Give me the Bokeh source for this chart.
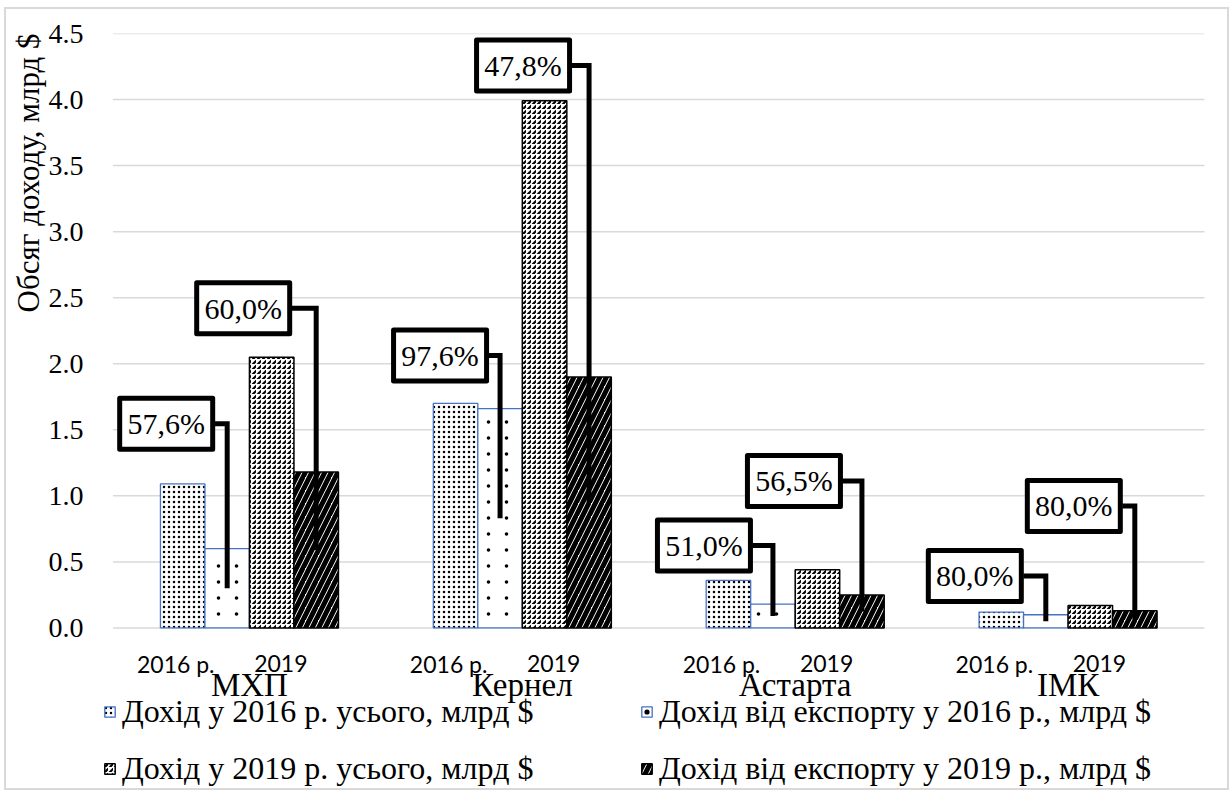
from bokeh.plotting import figure
from bokeh.models import (Range1d, FixedTicker, PrintfTickFormatter, Legend,
                          LegendItem, ColumnDataSource, Title)
from bokeh.embed import file_html
from bokeh.resources import INLINE
from bokeh.core.properties import value

# ---------------- data ----------------
categories = ["МХП", "Кернел", "Астарта", "ІМК"]
sub_labels = ["2016 р.", "2019"]
rev2016_total = [1.09, 1.70, 0.36, 0.12]
rev2016_export = [0.60, 1.66, 0.18, 0.10]
rev2019_total = [2.05, 3.99, 0.44, 0.17]
rev2019_export = [1.18, 1.90, 0.25, 0.13]
share_2016 = ["57,6%", "97,6%", "51,0%", "80,0%"]
share_2019 = ["60,0%", "47,8%", "56,5%", "80,0%"]
series_names = ["Дохід у 2016 р. усього, млрд $",
                "Дохід від експорту у 2016 р., млрд $",
                "Дохід у 2019 р. усього, млрд $",
                "Дохід від експорту у 2019 р., млрд $"]
y_ticks = [0.0, 0.5, 1.0, 1.5, 2.0, 2.5, 3.0, 3.5, 4.0, 4.5]
y_title = "Обсяг доходу, млрд $"

# ---------------- layout (positions, not data) ----------------
W, H = 1225, 783
ORIGIN_X, ORIGIN_Y = 6, 9            # page position of canvas (margin + border)
FRAME_L, FRAME_R, FRAME_T = 100, 1206, 33   # page px
GRID_L, GRID_R = 112.5, 1204.0             # page px of x = -0.5 .. 3.5
PX_Y = 132.1                               # px per 1 bln $
ML = FRAME_L - ORIGIN_X
MT = FRAME_T - ORIGIN_Y
MR = (ORIGIN_X + W) - FRAME_R
MB = 0
px_x = (GRID_R - GRID_L) / len(categories)
XMIN = -0.5 - (GRID_L - FRAME_L) / px_x
XMAX = len(categories) - 0.5 + (FRAME_R - GRID_R) / px_x
frame_h = (ORIGIN_Y + H - MB) - FRAME_T
YMAX = 4.5
YMIN = YMAX - frame_h / PX_Y
bar_w = 44.5 / px_x
# callout boxes: (px offset of box centre from bar centre, y of box centre in axis units)
callout_2016 = [(-61, 1.545), (-60, 2.063), (-69, 0.625), (-71, 0.394)]
callout_2019 = [(-73, 2.42), (-66, 4.258), (-68, 1.113), (-61, 0.924)]
BOX_W, BOX_H = 93, 51
# sparse-dot fill pattern of the export-2016 bars (page-aligned grid, px)
DOT_X0, DOT_DX, DOT_Y0, DOT_DY = 218.0, 18.0, 14.0, 16.0

SERIF = "Liberation Serif"
SANS = "Lato"

p = figure(width=W, height=H, x_range=Range1d(XMIN, XMAX), y_range=Range1d(YMIN, YMAX),
           output_backend="svg", toolbar_location=None, x_axis_location=None,
           min_border_left=ML, min_border_right=MR, min_border_top=MT, min_border_bottom=MB)
p.outline_line_color = None
p.background_fill_color = "white"
p.border_fill_color = "white"
p.styles = {"border": "2px solid #d9d9d9", "box-sizing": "border-box",
            "margin-left": "4px", "margin-top": "7px"}

p.xgrid.visible = False
p.ygrid.visible = False
# horizontal gridlines over the plot area only
p.segment(x0=[-0.5] * len(y_ticks), x1=[len(categories) - 0.5] * len(y_ticks),
          y0=y_ticks, y1=y_ticks, line_color="#d9d9d9", line_width=1.5)

yax = p.yaxis[0]
yax.ticker = FixedTicker(ticks=y_ticks)
yax.formatter = PrintfTickFormatter(format="%.1f")
yax.axis_line_color = None
yax.major_tick_line_color = None
yax.minor_tick_line_color = None
yax.major_tick_out = 0
yax.major_tick_in = 0
yax.major_label_standoff = 17
yax.major_label_text_font = SERIF
yax.major_label_text_font_size = "28px"
yax.major_label_text_color = "black"

p.add_layout(Title(text=y_title, align="right", text_font=SERIF, text_font_size="31px",
                   text_font_style="normal", text_color="black", standoff=0), "left")

idx = list(range(len(categories)))
series_vals = [rev2016_total, rev2016_export, rev2019_total, rev2019_export]
styles = [
    dict(line_color="#4472C4", line_width=1.3, fill_color="white",
         hatch_pattern="dot", hatch_color="black", hatch_scale=5, hatch_weight=3.0),
    dict(line_color="#4472C4", line_width=1.3, fill_color="white"),
    dict(line_color="black", line_width=1.5, fill_color="white",
         hatch_pattern="right_diagonal_dash", hatch_color="black", hatch_scale=5, hatch_weight=2.2),
    dict(line_color="black", line_width=1.5, fill_color="white",
         hatch_pattern="right_diagonal_line", hatch_color="black", hatch_scale=13, hatch_weight=5),
]
bar_x = []
renderers = []
for k, (vals, st) in enumerate(zip(series_vals, styles)):
    xs_k = [i + (k - 1.5) * bar_w for i in idx]
    bar_x.append(xs_k)
    src = ColumnDataSource(dict(x=xs_k, top=vals))
    r = p.vbar(x="x", top="top", bottom=0, width=bar_w, source=src, **st)
    renderers.append([r])

# sparse dots inside the export-2016 bars
dx_data = DOT_DX / px_x
x_anchor = -0.5 + (DOT_X0 - GRID_L) / px_x
dots_x, dots_y = [], []
for bx, v in zip(bar_x[1], rev2016_export):
    left, right = bx - bar_w / 2 + 3 / px_x, bx + bar_w / 2 - 1 / px_x
    n0 = int((left - x_anchor) // dx_data) + 1
    xg = [x_anchor + n * dx_data for n in range(n0, n0 + 4) if x_anchor + n * dx_data <= right]
    j = 0
    while (DOT_Y0 + j * DOT_DY) / PX_Y < v - 4 / PX_Y:
        for xx in xg:
            dots_x.append(xx)
            dots_y.append((DOT_Y0 + j * DOT_DY) / PX_Y)
        j += 1
dots = p.scatter(x=dots_x, y=dots_y, size=3.6, marker="circle", fill_color="black", line_color=None)
renderers[1].append(dots)

# category sub-labels and names
sub_x = [i - 0.27 for i in idx] + [i + 0.115 for i in idx]
sub_t = [sub_labels[0]] * len(idx) + [sub_labels[1]] * len(idx)
p.text(x=sub_x, y=[-0.27] * len(sub_x), text=sub_t, text_font=value(SANS),
       text_font_size="23px", text_align="center", text_baseline="middle", text_color="black")
p.text(x=idx, y=[-0.43] * len(idx), text=categories, text_font=value(SERIF),
       text_font_size="33px", text_align="center", text_baseline="middle", text_color="black")

# callouts with leader lines
def add_callouts(k, vals, shares, pos):
    bx = bar_x[k]
    cx = [b + dx / px_x for b, (dx, _) in zip(bx, pos)]
    cy = [yy for (_, yy) in pos]
    right = [c + (BOX_W / 2 + 2) / px_x for c in cx]
    xs = [[b, b, r] for b, r in zip(bx, right)]
    ys = [[v / 2, y, y] for v, y in zip(vals, cy)]
    p.multi_line(xs=xs, ys=ys, line_color="black", line_width=5, line_join="miter")
    p.rect(x=cx, y=cy, width=BOX_W, height=BOX_H, width_units="screen", height_units="screen",
           fill_color="white", line_color="black", line_width=5, line_join="round")
    p.text(x=cx, y=cy, text=shares, text_font=value(SERIF), text_font_size="30px",
           text_align="center", text_baseline="middle", text_color="black")

add_callouts(1, rev2016_export, share_2016, callout_2016)
add_callouts(3, rev2019_export, share_2019, callout_2019)

# legend: two columns, each its own legend
def make_legend(items, loc):
    lg = Legend(items=items, location=loc, orientation="vertical")
    lg.label_text_font = SERIF
    lg.label_text_font_size = "32px"
    lg.label_text_color = "black"
    lg.label_height = 34
    lg.glyph_width = 13
    lg.glyph_height = 13
    lg.label_standoff = 6
    lg.spacing = 20
    lg.padding = 0
    lg.margin = 0
    lg.border_line_color = None
    lg.background_fill_alpha = 0
    return lg

items = [LegendItem(label=n, renderers=rs) for n, rs in zip(series_names, renderers)]
p.add_layout(make_legend([items[0], items[2]], (103 - FRAME_L, 5)))
p.add_layout(make_legend([items[1], items[3]], (640 - FRAME_L, 5)))

open("out.html", "w").write(file_html(p, INLINE))
